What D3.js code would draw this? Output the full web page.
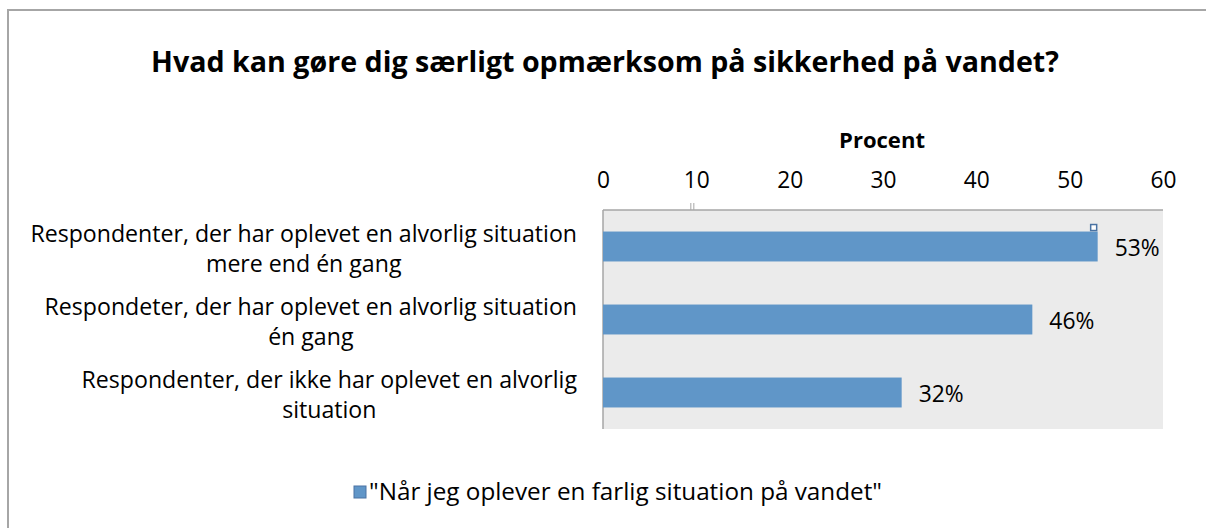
<!DOCTYPE html>
<html>
<head>
<meta charset="utf-8">
<script src="https://cdn.jsdelivr.net/npm/d3@7"></script>
<style>
  html, body { margin: 0; background: #fff; overflow: hidden; }
  svg { display: block; }
  svg text { font-family: "Open Sans", Lato, sans-serif; fill: #000; }
</style>
</head>
<body>
<div id="chart"></div>
<script>
// data
var categories = [
  ["Respondenter, der har oplevet en alvorlig situation", "mere end én gang"],
  ["Respondeter, der har oplevet en alvorlig situation", "én gang"],
  ["Respondenter, der ikke har oplevet en alvorlig", "situation"]
];
var values = [53, 46, 32];
var xTicks = [0, 10, 20, 30, 40, 50, 60];
var seriesName = "\"Når jeg oplever en farlig situation på vandet\"";
var title = "Hvad kan gøre dig særligt opmærksom på sikkerhed på vandet?";

var W = 1206, H = 528;
var plot = { left: 603, right: 1163, top: 210, bottom: 429 };

// scale font-size so the text gets a wanted width
function fitWidth(sel, target) {
  var w = sel.node().getComputedTextLength();
  var fs = parseFloat(sel.style("font-size"));
  sel.style("font-size", (fs * target / w) + "px");
}

var svg = d3.select("#chart").append("svg")
  .attr("width", W)
  .attr("height", H);

// outer frame (only top and left edges are inside the window)
svg.append("path")
  .attr("d", "M" + (W + 10) + ",10 L8,10 L8," + (H + 10))
  .attr("fill", "none")
  .attr("stroke", "#a6a6a6")
  .attr("stroke-width", 2);

var tt = svg.append("text")
  .attr("x", 605).attr("y", 72)
  .attr("text-anchor", "middle")
  .style("font-size", "25px")
  .style("font-weight", "bold")
  .text(title);
fitWidth(tt, 908);

var x = d3.scaleLinear().domain([0, 60]).range([plot.left, plot.right]);
var y = d3.scaleBand().domain(d3.range(categories.length))
  .range([plot.top, plot.bottom])
  .paddingInner(0.59).paddingOuter(0.295);

// plot area
svg.append("rect")
  .attr("x", plot.left).attr("y", plot.top)
  .attr("width", plot.right - plot.left)
  .attr("height", plot.bottom - plot.top)
  .attr("fill", "#ebebeb");

svg.append("line")
  .attr("x1", plot.left).attr("x2", plot.right)
  .attr("y1", plot.top).attr("y2", plot.top)
  .attr("stroke", "#a6a6a6").attr("stroke-width", 1.5);
svg.append("line")
  .attr("x1", plot.left).attr("x2", plot.left)
  .attr("y1", plot.top).attr("y2", plot.bottom)
  .attr("stroke", "#a6a6a6").attr("stroke-width", 1.5);

// top axis labels
var xAxis = d3.axisTop(x).tickValues(xTicks).tickSize(0).tickPadding(22);
var gx = svg.append("g")
  .attr("transform", "translate(0," + plot.top + ")")
  .call(xAxis);
gx.select(".domain").remove();
gx.selectAll("text")
  .style("font-size", "20px")
  .style("font-family", "\"Open Sans\", sans-serif")
  .attr("fill", "#000");
var tickLbl = gx.selectAll("text").filter(function (d) { return d === 10; });
fitWidth(tickLbl, 26);
gx.selectAll("text").style("font-size", tickLbl.style("font-size"));

// little tick marks near 10
svg.selectAll(".mk").data([-1.5, 1.5]).enter().append("line")
  .attr("x1", function (d) { return x(10) - 4 + d; })
  .attr("x2", function (d) { return x(10) - 4 + d; })
  .attr("y1", plot.top - 7).attr("y2", plot.top)
  .attr("stroke", "#a6a6a6").attr("stroke-width", 1);

var pt = svg.append("text")
  .attr("x", x(30) - 1).attr("y", 148)
  .attr("text-anchor", "middle")
  .style("font-size", "19px")
  .style("font-weight", "bold")
  .text("Procent");
fitWidth(pt, 86);

// bars
svg.selectAll(".bar")
  .data(values)
  .enter().append("rect")
  .attr("class", "bar")
  .attr("x", x(0))
  .attr("y", function (d, i) { return y(i); })
  .attr("width", function (d) { return x(d) - x(0); })
  .attr("height", y.bandwidth())
  .attr("fill", "#6096c8");

// selection handle at first bar
svg.append("rect")
  .attr("x", x(values[0]) - 7).attr("y", y(0) - 7)
  .attr("width", 6).attr("height", 6)
  .attr("fill", "#fff")
  .attr("stroke", "#4a73a3").attr("stroke-width", 1.5);

var dl = svg.selectAll(".lbl")
  .data(values)
  .enter().append("text")
  .attr("x", function (d) { return x(d) + 17; })
  .attr("y", function (d, i) { return y(i) + y.bandwidth() / 2 + 9; })
  .style("font-size", "20px")
  .text(function (d) { return d + "%"; });
fitWidth(d3.select(dl.nodes()[0]), 45);
dl.style("font-size", d3.select(dl.nodes()[0]).style("font-size"));

// category labels, centred block with right edge at 577
var probe = svg.append("text").style("font-size", "19px").text(categories[0][0]);
var labelSize = 19 * 547 / probe.node().getComputedTextLength();
probe.remove();

categories.forEach(function (lines, i) {
  var g = svg.append("g");
  var t = g.selectAll("text").data(lines).enter().append("text")
    .attr("text-anchor", "middle")
    .attr("y", function (d, j) { return y(i) + y.bandwidth() / 2 - 5 + j * 30; })
    .style("font-size", labelSize + "px")
    .text(function (d) { return d; });
  var maxW = 0;
  t.each(function () { maxW = Math.max(maxW, this.getComputedTextLength()); });
  t.attr("x", 577 - maxW / 2);
});

// legend
svg.append("rect")
  .attr("x", 354).attr("y", 486)
  .attr("width", 12).attr("height", 12)
  .attr("fill", "#6096c8")
  .attr("stroke", "#4a73a3").attr("stroke-width", 1);
var lt = svg.append("text")
  .attr("x", 369).attr("y", 500)
  .style("font-size", labelSize + "px")
  .text(seriesName);
fitWidth(lt, 513);
</script>
</body>
</html>
